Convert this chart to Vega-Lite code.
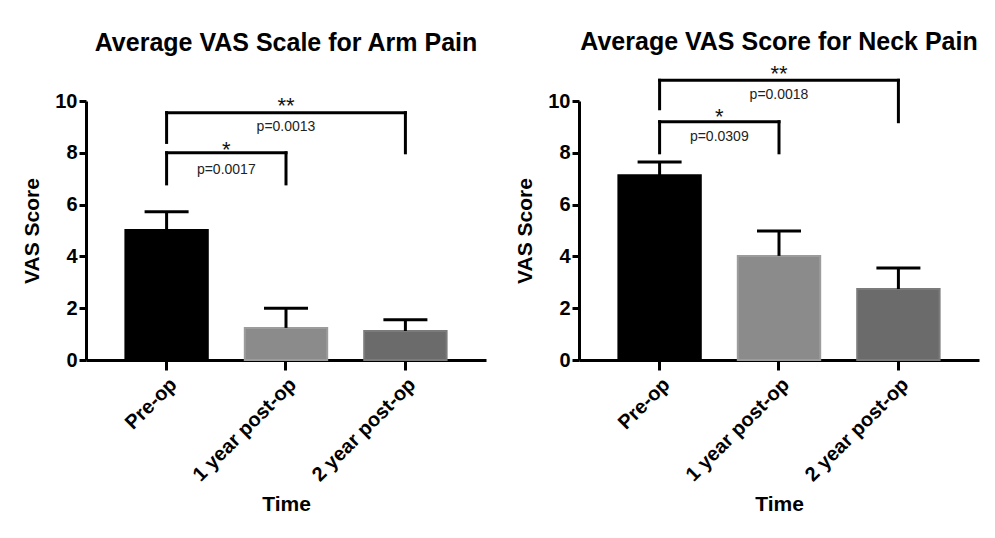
{
  "$schema": "https://vega.github.io/schema/vega-lite/v6.json",
  "padding": {"left": 21, "top": 29, "right": 10, "bottom": 5},
  "spacing": 28,
  "datasets": {
    "bars": [
      {"panel": "Arm", "time": "Pre-op", "mean": 5.02, "upper": 5.72},
      {"panel": "Arm", "time": "1 year post-op", "mean": 1.24, "upper": 2.0},
      {"panel": "Arm", "time": "2 year post-op", "mean": 1.12, "upper": 1.55},
      {"panel": "Neck", "time": "Pre-op", "mean": 7.13, "upper": 7.64},
      {"panel": "Neck", "time": "1 year post-op", "mean": 4.02, "upper": 4.98},
      {"panel": "Neck", "time": "2 year post-op", "mean": 2.74, "upper": 3.55}
    ],
    "brackets": [
      {"panel": "Arm", "from": "Pre-op", "to": "1 year post-op", "level": 8.0},
      {"panel": "Arm", "from": "Pre-op", "to": "2 year post-op", "level": 9.55},
      {"panel": "Neck", "from": "Pre-op", "to": "1 year post-op", "level": 9.2},
      {"panel": "Neck", "from": "Pre-op", "to": "2 year post-op", "level": 10.8}
    ],
    "legs": [
      {"panel": "Arm", "time": "Pre-op", "top": 8.0, "bottom": 6.8},
      {"panel": "Arm", "time": "1 year post-op", "top": 8.0, "bottom": 6.8},
      {"panel": "Arm", "time": "Pre-op", "top": 9.55, "bottom": 8.4},
      {"panel": "Arm", "time": "2 year post-op", "top": 9.55, "bottom": 8.0},
      {"panel": "Neck", "time": "Pre-op", "top": 9.2, "bottom": 8.0},
      {"panel": "Neck", "time": "1 year post-op", "top": 9.2, "bottom": 8.0},
      {"panel": "Neck", "time": "Pre-op", "top": 10.8, "bottom": 9.7},
      {"panel": "Neck", "time": "2 year post-op", "top": 10.8, "bottom": 9.2}
    ],
    "labels": [
      {"panel": "Arm", "kind": "near", "role": "star", "anchor": "Pre-op", "label": "*", "value": 7.65},
      {"panel": "Arm", "kind": "near", "role": "p", "anchor": "Pre-op", "label": "p=0.0017", "value": 7.33},
      {"panel": "Arm", "kind": "wide", "role": "star", "anchor": "1 year post-op", "label": "**", "value": 9.36},
      {"panel": "Arm", "kind": "wide", "role": "p", "anchor": "1 year post-op", "label": "p=0.0013", "value": 9.0},
      {"panel": "Neck", "kind": "near", "role": "star", "anchor": "Pre-op", "label": "*", "value": 8.93},
      {"panel": "Neck", "kind": "near", "role": "p", "anchor": "Pre-op", "label": "p=0.0309", "value": 8.61},
      {"panel": "Neck", "kind": "wide", "role": "star", "anchor": "1 year post-op", "label": "**", "value": 10.58},
      {"panel": "Neck", "kind": "wide", "role": "p", "anchor": "1 year post-op", "label": "p=0.0018", "value": 10.25}
    ]
  },
  "hconcat": [
    {
      "title": {"text": "Average VAS Scale for Arm Pain", "fontSize": 25, "fontWeight": "bold", "color": "black", "frame": "group", "anchor": "middle", "offset": 35},
      "width": 400,
      "height": 259,
      "layer": [
        {
          "data": {"name": "bars"},
          "transform": [{"filter": "datum.panel === 'Arm'"}],
          "mark": {"type": "bar", "strokeWidth": 2},
          "encoding": {
            "x": {"field": "time", "type": "nominal", "title": "Time", "scale": {"domain": ["Pre-op", "1 year post-op", "2 year post-op"], "paddingInner": 0.31, "paddingOuter": 0.33}},
            "y": {"field": "mean", "type": "quantitative", "title": "VAS Score", "scale": {"domain": [0, 10], "nice": false}, "axis": {"values": [0, 2, 4, 6, 8, 10]}},
            "fill": {"field": "time", "type": "nominal", "legend": null, "scale": {"domain": ["Pre-op", "1 year post-op", "2 year post-op"], "range": ["#000000", "#8b8b8b", "#6b6b6b"]}},
            "stroke": {"field": "time", "type": "nominal", "legend": null, "scale": {"domain": ["Pre-op", "1 year post-op", "2 year post-op"], "range": ["#000000", "#9c9c9c", "#7b7b7b"]}}
          }
        },
        {
          "data": {"name": "bars"},
          "transform": [{"filter": "datum.panel === 'Arm'"}],
          "mark": {"type": "rule", "strokeWidth": 3, "color": "black"},
          "encoding": {
            "x": {"field": "time", "type": "nominal", "title": "Time"},
            "y": {"field": "mean", "type": "quantitative", "title": "VAS Score"},
            "y2": {"field": "upper"}
          }
        },
        {
          "data": {"name": "bars"},
          "transform": [{"filter": "datum.panel === 'Arm'"}],
          "mark": {"type": "tick", "thickness": 3, "size": 44, "color": "black", "opacity": 1},
          "encoding": {
            "x": {"field": "time", "type": "nominal", "title": "Time"},
            "y": {"field": "upper", "type": "quantitative", "title": "VAS Score"}
          }
        },
        {
          "data": {"name": "brackets"},
          "transform": [{"filter": "datum.panel === 'Arm'"}],
          "mark": {"type": "rule", "strokeWidth": 3, "color": "black", "strokeCap": "square"},
          "encoding": {
            "x": {"field": "from", "type": "nominal", "title": "Time"},
            "x2": {"field": "to"},
            "y": {"field": "level", "type": "quantitative", "title": "VAS Score"}
          }
        },
        {
          "data": {"name": "legs"},
          "transform": [{"filter": "datum.panel === 'Arm'"}],
          "mark": {"type": "rule", "strokeWidth": 3, "color": "black", "strokeCap": "square"},
          "encoding": {
            "x": {"field": "time", "type": "nominal", "title": "Time"},
            "y": {"field": "top", "type": "quantitative", "title": "VAS Score"},
            "y2": {"field": "bottom"}
          }
        },
        {
          "data": {"name": "labels"},
          "transform": [{"filter": "datum.panel === 'Arm' && datum.kind === 'near' && datum.role === 'p'"}],
          "mark": {"type": "text", "fontSize": 14, "color": "#222222", "baseline": "middle"},
          "encoding": {
            "x": {"field": "anchor", "type": "nominal", "title": "Time", "bandPosition": 1.2246},
            "y": {"field": "value", "type": "quantitative", "title": "VAS Score"},
            "text": {"field": "label"}
          }
        },
        {
          "data": {"name": "labels"},
          "transform": [{"filter": "datum.panel === 'Arm' && datum.kind === 'near' && datum.role === 'star'"}],
          "mark": {"type": "text", "fontSize": 22, "color": "#111111", "baseline": "bottom"},
          "encoding": {
            "x": {"field": "anchor", "type": "nominal", "title": "Time", "bandPosition": 1.2246},
            "y": {"field": "value", "type": "quantitative", "title": "VAS Score"},
            "text": {"field": "label"}
          }
        },
        {
          "data": {"name": "labels"},
          "transform": [{"filter": "datum.panel === 'Arm' && datum.kind === 'wide' && datum.role === 'p'"}],
          "mark": {"type": "text", "fontSize": 14, "color": "#222222", "baseline": "middle"},
          "encoding": {
            "x": {"field": "anchor", "type": "nominal", "title": "Time"},
            "y": {"field": "value", "type": "quantitative", "title": "VAS Score"},
            "text": {"field": "label"}
          }
        },
        {
          "data": {"name": "labels"},
          "transform": [{"filter": "datum.panel === 'Arm' && datum.kind === 'wide' && datum.role === 'star'"}],
          "mark": {"type": "text", "fontSize": 22, "color": "#111111", "baseline": "bottom"},
          "encoding": {
            "x": {"field": "anchor", "type": "nominal", "title": "Time"},
            "y": {"field": "value", "type": "quantitative", "title": "VAS Score"},
            "text": {"field": "label"}
          }
        }
      ]
    },
    {
      "title": {"text": "Average VAS Score for Neck Pain", "fontSize": 25, "fontWeight": "bold", "color": "black", "frame": "group", "anchor": "middle", "offset": 8},
      "width": 400,
      "height": 259,
      "layer": [
        {
          "data": {"name": "bars"},
          "transform": [{"filter": "datum.panel === 'Neck'"}],
          "mark": {"type": "bar", "strokeWidth": 2},
          "encoding": {
            "x": {"field": "time", "type": "nominal", "title": "Time", "scale": {"domain": ["Pre-op", "1 year post-op", "2 year post-op"], "paddingInner": 0.31, "paddingOuter": 0.33}},
            "y": {"field": "mean", "type": "quantitative", "title": "VAS Score", "scale": {"domain": [0, 10], "nice": false}, "axis": {"values": [0, 2, 4, 6, 8, 10]}},
            "fill": {"field": "time", "type": "nominal", "legend": null, "scale": {"domain": ["Pre-op", "1 year post-op", "2 year post-op"], "range": ["#000000", "#8b8b8b", "#6b6b6b"]}},
            "stroke": {"field": "time", "type": "nominal", "legend": null, "scale": {"domain": ["Pre-op", "1 year post-op", "2 year post-op"], "range": ["#000000", "#9c9c9c", "#7b7b7b"]}}
          }
        },
        {
          "data": {"name": "bars"},
          "transform": [{"filter": "datum.panel === 'Neck'"}],
          "mark": {"type": "rule", "strokeWidth": 3, "color": "black"},
          "encoding": {
            "x": {"field": "time", "type": "nominal", "title": "Time"},
            "y": {"field": "mean", "type": "quantitative", "title": "VAS Score"},
            "y2": {"field": "upper"}
          }
        },
        {
          "data": {"name": "bars"},
          "transform": [{"filter": "datum.panel === 'Neck'"}],
          "mark": {"type": "tick", "thickness": 3, "size": 44, "color": "black", "opacity": 1},
          "encoding": {
            "x": {"field": "time", "type": "nominal", "title": "Time"},
            "y": {"field": "upper", "type": "quantitative", "title": "VAS Score"}
          }
        },
        {
          "data": {"name": "brackets"},
          "transform": [{"filter": "datum.panel === 'Neck'"}],
          "mark": {"type": "rule", "strokeWidth": 3, "color": "black", "strokeCap": "square"},
          "encoding": {
            "x": {"field": "from", "type": "nominal", "title": "Time"},
            "x2": {"field": "to"},
            "y": {"field": "level", "type": "quantitative", "title": "VAS Score"}
          }
        },
        {
          "data": {"name": "legs"},
          "transform": [{"filter": "datum.panel === 'Neck'"}],
          "mark": {"type": "rule", "strokeWidth": 3, "color": "black", "strokeCap": "square"},
          "encoding": {
            "x": {"field": "time", "type": "nominal", "title": "Time"},
            "y": {"field": "top", "type": "quantitative", "title": "VAS Score"},
            "y2": {"field": "bottom"}
          }
        },
        {
          "data": {"name": "labels"},
          "transform": [{"filter": "datum.panel === 'Neck' && datum.kind === 'near' && datum.role === 'p'"}],
          "mark": {"type": "text", "fontSize": 14, "color": "#222222", "baseline": "middle"},
          "encoding": {
            "x": {"field": "anchor", "type": "nominal", "title": "Time", "bandPosition": 1.2246},
            "y": {"field": "value", "type": "quantitative", "title": "VAS Score"},
            "text": {"field": "label"}
          }
        },
        {
          "data": {"name": "labels"},
          "transform": [{"filter": "datum.panel === 'Neck' && datum.kind === 'near' && datum.role === 'star'"}],
          "mark": {"type": "text", "fontSize": 22, "color": "#111111", "baseline": "bottom"},
          "encoding": {
            "x": {"field": "anchor", "type": "nominal", "title": "Time", "bandPosition": 1.2246},
            "y": {"field": "value", "type": "quantitative", "title": "VAS Score"},
            "text": {"field": "label"}
          }
        },
        {
          "data": {"name": "labels"},
          "transform": [{"filter": "datum.panel === 'Neck' && datum.kind === 'wide' && datum.role === 'p'"}],
          "mark": {"type": "text", "fontSize": 14, "color": "#222222", "baseline": "middle"},
          "encoding": {
            "x": {"field": "anchor", "type": "nominal", "title": "Time"},
            "y": {"field": "value", "type": "quantitative", "title": "VAS Score"},
            "text": {"field": "label"}
          }
        },
        {
          "data": {"name": "labels"},
          "transform": [{"filter": "datum.panel === 'Neck' && datum.kind === 'wide' && datum.role === 'star'"}],
          "mark": {"type": "text", "fontSize": 22, "color": "#111111", "baseline": "bottom"},
          "encoding": {
            "x": {"field": "anchor", "type": "nominal", "title": "Time"},
            "y": {"field": "value", "type": "quantitative", "title": "VAS Score"},
            "text": {"field": "label"}
          }
        }
      ]
    }
  ],
  "config": {
    "font": "Liberation Sans",
    "view": {"stroke": null},
    "axis": {
      "grid": false,
      "domainColor": "black",
      "domainWidth": 3,
      "tickColor": "black",
      "tickWidth": 3,
      "labelColor": "black",
      "labelFont": "Liberation Sans",
      "labelFontWeight": "bold",
      "labelFontSize": 20,
      "titleFont": "Liberation Sans",
      "titleFontSize": 21,
      "titleFontWeight": "bold",
      "titleColor": "black"
    },
    "axisY": {"tickSize": 7, "labelPadding": 2, "titlePadding": 12},
    "axisX": {"tickSize": 10, "labelAngle": -45, "labelPadding": 4, "titlePadding": 9}
  }
}
